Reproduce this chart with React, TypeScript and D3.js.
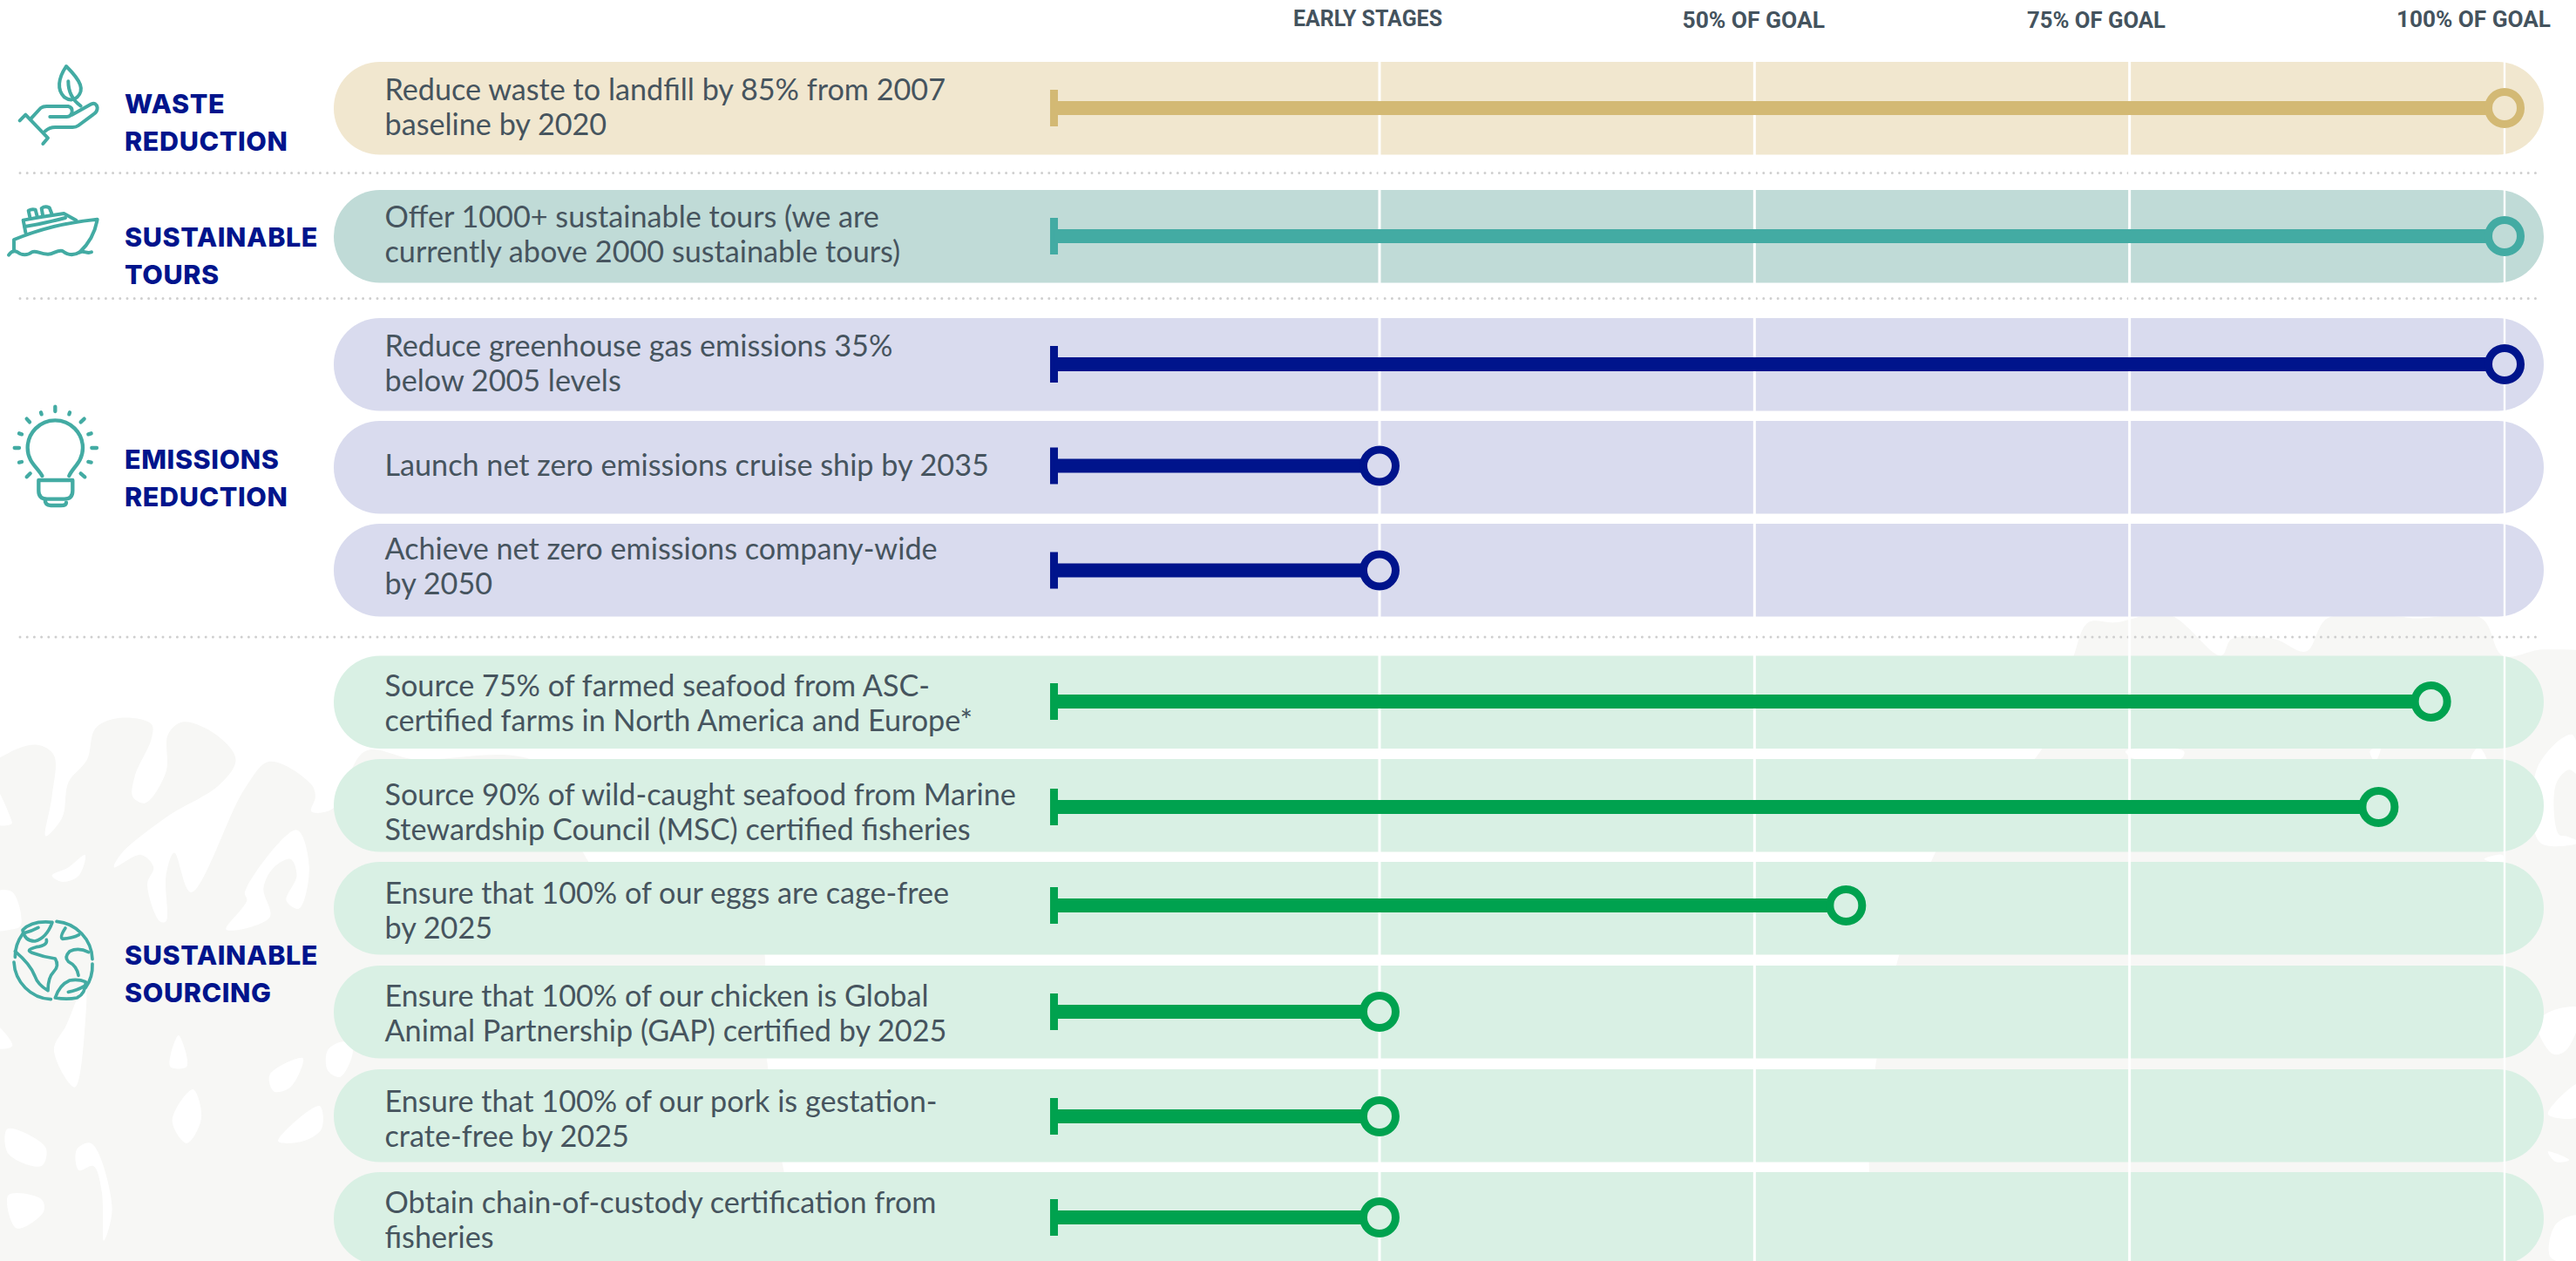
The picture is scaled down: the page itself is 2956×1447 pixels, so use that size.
import React from "react";
import * as d3 from "d3";

// ---------- data ----------
const headerLabels = ["EARLY STAGES", "50% OF GOAL", "75% OF GOAL", "100% OF GOAL"];
const gridValues = [25, 50, 75, 100];
const startValue = 3.3;

const goalLines: string[][] = [
  ["Reduce waste to landfill by 85% from 2007", "baseline by 2020"],
  ["Offer 1000+ sustainable tours (we are", "currently above 2000 sustainable tours)"],
  ["Reduce greenhouse gas emissions 35%", "below 2005 levels"],
  ["Launch net zero emissions cruise ship by 2035"],
  ["Achieve net zero emissions company-wide", "by 2050"],
  ["Source 75% of farmed seafood from ASC-", "certified farms in North America and Europe*"],
  ["Source 90% of wild-caught seafood from Marine", "Stewardship Council (MSC) certified fisheries"],
  ["Ensure that 100% of our eggs are cage-free", "by 2025"],
  ["Ensure that 100% of our chicken is Global", "Animal Partnership (GAP) certified by 2025"],
  ["Ensure that 100% of our pork is gestation-", "crate-free by 2025"],
  ["Obtain chain-of-custody certification from", "fisheries"],
];
const goalValues = [100, 100, 100, 25, 25, 95.1, 91.6, 56.1, 25, 25, 25];
const goalGroup = [0, 1, 2, 2, 2, 3, 3, 3, 3, 3, 3];

const groupLabels: string[][] = [
  ["WASTE", "REDUCTION"],
  ["SUSTAINABLE", "TOURS"],
  ["EMISSIONS", "REDUCTION"],
  ["SUSTAINABLE", "SOURCING"],
];

// ---------- layout & style ----------
const W = 2956, H = 1447;
const rowTop = [71, 218, 365, 483, 601, 752.5, 871, 989, 1108, 1227, 1345];
const rowH = 106.5;
const barY = [124, 271, 418, 534.5, 654.5, 805, 926, 1039, 1161, 1281, 1397];
const textY = [115, 261, 409, 545.5, 642, 798.5, 923.5, 1037, 1155, 1276, 1392];
const groupTextY = [129.5, 282.5, 538, 1107];
const headerX = [1484, 1930.5, 2326, 2750];
const headerLen = [171, 163.5, 159, 177];
const headerY = [30, 32, 32, 31];
const gridW = [3, 3, 3, 2.4];
const dividers = [198.5, 342.5, 731];
const rowFill = ["#f1e7cf", "#c0dbd7", "#d9dbee", "#d9f0e4"];
const barFill = ["#d3b974", "#43aba3", "#00148c", "#00a24f"];
const TEAL = "#43aba3";
const LEAF = "#f7f7f5";

const x = d3.scaleLinear().domain([25, 100]).range([1583, 2874]);

const blob = d3.line().curve(d3.curveCatmullRomClosed.alpha(0.5));
const zl = (pts: number[][]) => blob(pts.map(([a, b]) => [a / 2.1, 700 + b / 2.1]) as any) as string;
const zr = (pts: number[][]) => blob(pts.map(([a, b]) => [2000 + a / 1.64, 700 + b / 2.1]) as any) as string;

const leftLeaf = [
  [-40, 400], [20, 345], [90, 325], [130, 350], [125, 450], [110, 545], [150, 500], [165, 415], [210, 360], [230, 285], [290, 260],
  [365, 275], [365, 310], [325, 400], [320, 450], [350, 465], [400, 390], [405, 300], [440, 270], [520, 300], [568, 360], [530, 420],
  [400, 500], [290, 590], [275, 620], [340, 590], [370, 620], [355, 660], [385, 750], [400, 750], [400, 640], [420, 585], [460, 680],
  [590, 430], [650, 365], [750, 420], [760, 450], [750, 485], [800, 480], [880, 340], [1000, 360], [1300, 370], [1450, 640], [1800, 700],
  [1850, 1100], [1900, 1400], [2000, 1700], [-40, 1700],
];
const leftHoles = [
  [[-10, 430], [25, 500], [28, 515], [-10, 515]],
  [[125, 640], [165, 620], [205, 590], [190, 640], [150, 655]],
  [[590, 680], [715, 530], [745, 620], [720, 720], [690, 700], [715, 640], [700, 600], [660, 620], [635, 670], [650, 740], [545, 770], [595, 700]],
  [[-10, 680], [30, 680], [50, 760], [25, 770], [-10, 770]],
  [[-10, 1000], [30, 1050], [-10, 1055]],
  [[410, 1100], [430, 1025], [450, 1100]],
  [[130, 1060], [160, 1000], [205, 900], [205, 1000], [180, 1150]],
  [[650, 1120], [730, 1080], [700, 1150], [660, 1160]],
  [[415, 1230], [465, 1155], [485, 1225], [450, 1285]],
  [[670, 1280], [770, 1195], [775, 1250], [730, 1280]],
  [[18, 1250], [110, 1295], [100, 1340], [20, 1310]],
  [[185, 1300], [220, 1285], [270, 1440], [250, 1520], [245, 1400], [225, 1340], [190, 1350]],
  [[20, 1410], [100, 1420], [105, 1450], [40, 1490]],
  [[790, 1060], [830, 1040], [850, 1060], [820, 1125], [790, 1110]],
];
const rightLeaf = [
  [620, 120], [650, 30], [700, 30], [800, 10], [900, 110], [920, 70], [1000, 70], [1060, 100], [1100, 20], [1230, 15], [1265, 20], [1390, 20], [1430, 110],
  [1510, 95], [1620, 130], [1640, 1600], [300, 1600], [360, 590], [560, 340],
];
const rightHoles = [
  [[1495, 380], [1560, 300], [1575, 400], [1555, 385], [1530, 420], [1535, 540], [1550, 545], [1575, 560], [1500, 560]],
  [[1495, 1000], [1515, 970], [1575, 960], [1550, 1060], [1525, 1070]],
  [[1515, 1215], [1575, 1140], [1575, 1220]],
  [[1515, 1305], [1555, 1325], [1530, 1330]],
  [[1520, 1560], [1530, 1480], [1575, 1460], [1575, 1568]],
  [[1180, 340], [1200, 330], [1190, 365]],
  [[1370, 360], [1385, 330], [1400, 365]],
  [[1395, 600], [1430, 590], [1430, 610]],
  [[720, 340], [830, 340], [825, 358], [735, 358]],
];

const HandIcon = () => (
  <g transform="translate(0,60) scale(0.3333)" fill="none" stroke={TEAL} strokeWidth={12} strokeLinecap="round" strokeLinejoin="round">
    <path d="M228 48 C200 90 195 130 222 155 C238 167 255 165 265 155 C292 130 280 100 228 48Z" />
    <path d="M235 100 C235 135 250 165 278 185" />
    <path d="M68 235 L88 215 L165 295 L148 315" />
    <path d="M105 230 L140 192 Q148 186 160 186 L235 186 Q250 190 248 205 Q245 222 230 222 L172 222" />
    <path d="M248 215 L315 178 Q330 172 335 190 Q336 205 320 215 L270 252 Q262 258 250 258 L190 258 Q170 258 155 272" />
  </g>
);
const ShipIcon = () => (
  <g transform="translate(0,60) scale(0.3333)" fill="none" stroke={TEAL} strokeWidth={12} strokeLinecap="round" strokeLinejoin="round">
    <path d="M30 698 C40 684 50 682 60 688 C75 700 95 700 110 688 C125 680 135 695 165 695 C185 695 195 680 215 684 C235 700 255 700 275 688 C290 682 300 695 315 688" />
    <path d="M48 680 L48 645 Q180 590 335 575 Q325 640 275 688" />
    <path d="M88 620 L80 578 Q150 565 220 555 L262 578" />
    <path d="M85 600 Q150 590 225 570" />
    <path d="M103 568 L98 545 Q110 538 122 542 L128 565" />
    <path d="M147 560 L143 537 Q155 528 170 535 L178 555" />
  </g>
);
const rays = [
  [190, 80, 190, 96], [141, 100, 143, 106], [240, 100, 238, 106], [92, 122, 102, 133], [290, 122, 278, 133],
  [66, 172, 75, 175], [314, 172, 304, 175], [50, 222, 66, 222], [316, 222, 333, 222], [66, 272, 75, 270],
  [314, 272, 304, 270], [92, 322, 104, 310], [292, 322, 278, 310],
];
const BulbIcon = () => (
  <g transform="translate(0,440) scale(0.3333)" fill="none" stroke={TEAL} strokeWidth={13} strokeLinecap="round" strokeLinejoin="round">
    <path d="M145 318 C130 290 95 270 95 222 A95 95 0 0 1 285 222 C285 270 250 290 238 318" />
    <path d="M133 333 L250 333 L250 370 Q250 398 222 398 L162 398 Q133 398 133 370Z" />
    <path d="M155 400 Q155 420 175 420 L210 420 Q228 420 228 410" />
    {rays.map((r, i) => <line key={i} x1={r[0]} y1={r[1]} x2={r[2]} y2={r[3]} />)}
  </g>
);
const GlobeIcon = () => (
  <g transform="translate(0,1030) scale(0.3333)" fill="none" stroke={TEAL} strokeWidth={11} strokeLinecap="round" strokeLinejoin="round">
    <path d="M195 82 A135 135 0 0 1 318 212" />
    <path d="M318 228 A135 135 0 0 1 295 310" />
    <path d="M175 350 A135 135 0 0 1 48 222" />
    <path d="M52 205 A135 135 0 0 1 78 125" />
    <path d="M180 85 Q110 78 78 112 Q85 150 120 150 Q160 140 180 85Z" />
    <path d="M82 122 Q110 115 132 103" />
    <path d="M225 105 Q205 135 215 142 Q250 140 272 128" />
    <path d="M160 145 Q165 165 125 170 Q85 180 110 190 Q150 205 190 210 Q205 235 185 255 Q165 275 165 320 Q130 300 120 270 Q105 230 52 185" />
    <path d="M305 188 Q270 170 240 185 Q220 205 235 220 Q265 235 270 268" />
    <path d="M190 345 Q205 300 240 285 Q270 280 295 290 Q295 330 265 345 Q230 352 190 345Z" />
    <path d="M235 325 Q265 320 290 305" />
  </g>
);

export default function App() {
  return (
    <svg width={W} height={H} viewBox={`0 0 ${W} ${H}`} style={{ position: "absolute", left: 0, top: 0, display: "block", background: "#fff" }}>
      <g fill={LEAF}>
        <path d={zl(leftLeaf)} />
        <path d={zr(rightLeaf)} />
      </g>
      <g fill="#fff">
        {leftHoles.map((h, i) => <path key={i} d={zl(h)} />)}
        {rightHoles.map((h, i) => <path key={i} d={zr(h)} />)}
      </g>

      {dividers.map((y) => (
        <line key={y} x1={23} x2={2913} y1={y} y2={y} stroke="#cfcfcf" strokeWidth={3} strokeLinecap="round" strokeDasharray="0 8.2" />
      ))}

      {goalLines.map((_, i) => (
        <rect key={i} x={383} y={rowTop[i]} width={2919 - 383} height={rowH} rx={53} fill={rowFill[goalGroup[i]]} />
      ))}

      {gridValues.map((v, i) => (
        <line key={v} x1={x(v)} x2={x(v)} y1={71} y2={H} stroke="#fff" strokeWidth={gridW[i]} />
      ))}

      {headerLabels.map((t, i) => (
        <text key={t} x={headerX[i]} y={headerY[i]} textLength={headerLen[i]} lengthAdjust="spacingAndGlyphs" fontFamily="Roboto" fontWeight={700} fontSize={25.5} fill="#44535e">{t}</text>
      ))}

      {goalLines.map((lines, i) => (
        <text key={i} fontFamily="Lato" fontSize={34.2} fill="#46545e">
          {lines.map((l, j) => <tspan key={j} x={441.5} y={textY[i] + j * 40}>{l}</tspan>)}
        </text>
      ))}

      {goalValues.map((v, i) => {
        const c = barFill[goalGroup[i]];
        return (
          <g key={i}>
            <rect x={x(startValue) - 4.5} y={barY[i] - 21} width={9} height={42} fill={c} />
            <rect x={x(startValue)} y={barY[i] - 8} width={x(v) - x(startValue)} height={16} fill={c} />
            <circle cx={x(v)} cy={barY[i]} r={18.5} fill={rowFill[goalGroup[i]]} stroke={c} strokeWidth={9} />
          </g>
        );
      })}

      {groupLabels.map((lines, i) => (
        <text key={i} fontFamily="Inter" fontWeight={800} fontSize={30.5} letterSpacing={0.6} fill="#00148c">
          {lines.map((l, j) => <tspan key={j} x={143} y={groupTextY[i] + j * 43}>{l}</tspan>)}
        </text>
      ))}

      <HandIcon />
      <ShipIcon />
      <BulbIcon />
      <GlobeIcon />
    </svg>
  );
}
